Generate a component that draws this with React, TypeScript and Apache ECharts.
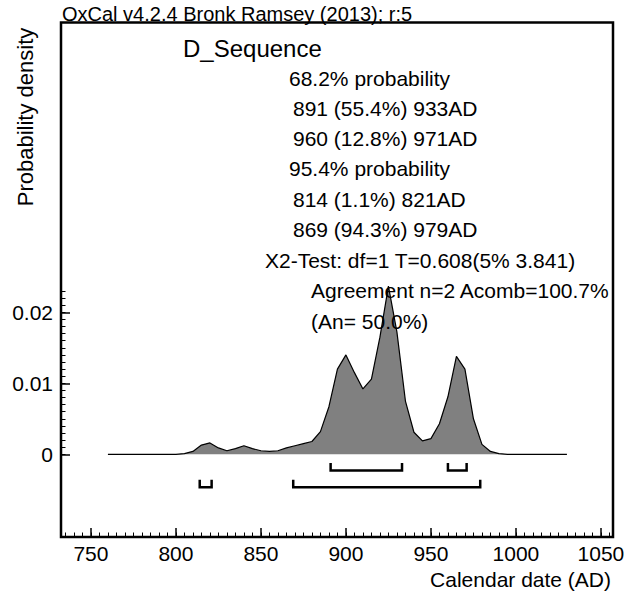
import React, { useEffect, useRef } from "react";
import * as echarts from "echarts";

// ---- data ----
const years = [760, 800, 805, 810, 815, 820, 825, 830, 835, 840, 845, 850, 855, 860, 865, 870, 875, 880, 885, 890, 895, 900, 905, 910, 915, 920, 925, 930, 935, 940, 945, 950, 955, 960, 965, 970, 975, 980, 985, 990, 995, 1030];
const density = [0, 0, 0.0001, 0.0004, 0.0013, 0.0016, 0.0009, 0.0005, 0.0008, 0.0012, 0.0008, 0.0005, 0.0004, 0.0005, 0.0009, 0.0012, 0.0015, 0.0018, 0.0032, 0.0067, 0.012, 0.014, 0.0115, 0.0092, 0.0106, 0.0165, 0.0237, 0.0172, 0.0075, 0.0031, 0.0019, 0.0022, 0.0043, 0.0081, 0.0138, 0.012, 0.005, 0.0014, 0.0004, 0.0001, 0, 0];
const ranges68 = [[891, 933], [960, 971]];
const ranges95 = [[814, 821], [869, 979]];
const xMajorTicks = [750, 800, 850, 900, 950, 1000, 1050];
const xMinorTicks = [735, 740, 745, 750, 755, 760, 765, 770, 775, 780, 785, 790, 795, 800, 805, 810, 815, 820, 825, 830, 835, 840, 845, 850, 855, 860, 865, 870, 875, 880, 885, 890, 895, 900, 905, 910, 915, 920, 925, 930, 935, 940, 945, 950, 955, 960, 965, 970, 975, 980, 985, 990, 995, 1000, 1005, 1010, 1015, 1020, 1025, 1030, 1035, 1040, 1045, 1050, 1055];
const yMajorTicks = [0, 0.01, 0.02];
const yMinorTicks = [0, 0.001, 0.002, 0.003, 0.004, 0.005, 0.006, 0.007, 0.008, 0.009, 0.01, 0.011, 0.012, 0.013, 0.014, 0.015, 0.016, 0.017, 0.018, 0.019, 0.02, 0.021, 0.022, 0.023];
const titleText = "OxCal v4.2.4 Bronk Ramsey (2013); r:5";
const seqName = "D_Sequence";
const infoLines = ["68.2% probability", "891 (55.4%) 933AD", "960 (12.8%) 971AD", "95.4% probability", "814 (1.1%) 821AD", "869 (94.3%) 979AD", "X2-Test: df=1 T=0.608(5% 3.841)", "Agreement n=2 Acomb=100.7%", "(An= 50.0%)"];
const yAxisTitle = "Probability density";
const xAxisTitle = "Calendar date (AD)";

// ---- layout ----
const XMIN = 732.4;
const XMAX = 1057.1;
const YMIN = -0.01165;
const YMAX = 0.06082;
const infoX = [289, 293, 293, 289, 293, 293, 265, 311, 311];
const infoY = [78, 108, 138, 168, 199, 229, 260, 290, 321];
const row68 = { top: -0.00123, bottom: -0.00229 };
const row95 = { top: -0.00359, bottom: -0.00464 };
const FONT = '"Liberation Sans", Arial, sans-serif';

function bracket(r: number[], row: { top: number; bottom: number }) {
  return {
    type: "line",
    xAxisIndex: 0,
    yAxisIndex: 0,
    symbol: "none",
    silent: true,
    lineStyle: { color: "#000", width: 2.5, join: "miter", cap: "butt" },
    data: [
      [r[0], row.top],
      [r[0], row.bottom],
      [r[1], row.bottom],
      [r[1], row.top],
    ],
    z: 5,
  };
}

export default function App() {
  const ref = useRef<HTMLDivElement>(null);
  useEffect(() => {
    if (!ref.current) return;
    const chart = echarts.init(ref.current, null, { renderer: "svg" });
    const axisCommon = { type: "value", splitLine: { show: false }, axisLine: { show: false, onZero: false } };
    const fmt = (v: number) => String(v);
    const graphics: any[] = [
      {
        type: "text",
        x: 62,
        y: 14,
        style: { text: titleText, font: `20px ${FONT}`, fill: "#000", align: "left", verticalAlign: "middle" },
        z: 100,
      },
      {
        type: "text",
        x: 183,
        y: 48,
        style: { text: seqName, font: `24px ${FONT}`, fill: "#000", align: "left", verticalAlign: "middle" },
        z: 100,
      },
      {
        type: "text",
        x: 25,
        y: 117,
        rotation: Math.PI / 2,
        style: { text: yAxisTitle, font: `22px ${FONT}`, fill: "#000", align: "center", verticalAlign: "middle" },
        z: 100,
      },
      {
        type: "text",
        x: 611,
        y: 579,
        style: { text: xAxisTitle, font: `21px ${FONT}`, fill: "#000", align: "right", verticalAlign: "middle" },
        z: 100,
      },
    ];
    infoLines.forEach((t, i) => {
      graphics.push({
        type: "text",
        x: infoX[i],
        y: infoY[i],
        style: { text: t, font: `21px ${FONT}`, fill: "#000", align: "left", verticalAlign: "middle" },
        z: 100,
      });
    });

    chart.setOption({
      animation: false,
      backgroundColor: "#fff",
      grid: {
        left: 61,
        right: 24,
        top: 22.5,
        bottom: 58,
        show: true,
        borderColor: "#000",
        borderWidth: 2.5,
        containLabel: false,
        outerBoundsMode: "none",
      },
      xAxis: [
        {
          ...axisCommon,
          min: XMIN,
          max: XMAX,
          position: "bottom",
          axisTick: { show: true, inside: true, length: 9, customValues: xMajorTicks, lineStyle: { color: "#000", width: 1.5 } },
          axisLabel: { show: true, customValues: xMajorTicks, formatter: fmt, margin: 6, fontSize: 21, color: "#000", fontFamily: FONT },
        },
        {
          ...axisCommon,
          min: XMIN,
          max: XMAX,
          position: "bottom",
          offset: 0,
          axisTick: { show: true, inside: true, length: 4.5, customValues: xMinorTicks, lineStyle: { color: "#000", width: 1 } },
          axisLabel: { show: false },
        },
      ],
      yAxis: [
        {
          ...axisCommon,
          min: YMIN,
          max: YMAX,
          position: "left",
          axisTick: { show: true, inside: true, length: 9, customValues: yMajorTicks, lineStyle: { color: "#000", width: 1.5 } },
          axisLabel: { show: true, customValues: yMajorTicks, formatter: fmt, margin: 8, fontSize: 21, color: "#000", fontFamily: FONT },
        },
        {
          ...axisCommon,
          min: YMIN,
          max: YMAX,
          position: "left",
          offset: 0,
          axisTick: { show: true, inside: true, length: 4.5, customValues: yMinorTicks, lineStyle: { color: "#000", width: 1 } },
          axisLabel: { show: false },
        },
      ],
      series: [
        {
          type: "line",
          xAxisIndex: 0,
          yAxisIndex: 0,
          symbol: "none",
          silent: true,
          data: years.map((y, i) => [y, density[i]]),
          lineStyle: { color: "#000", width: 1.2 },
          areaStyle: { color: "#808080", opacity: 1, origin: "auto" },
          z: 3,
        },
        ...ranges68.map((r) => bracket(r, row68)),
        ...ranges95.map((r) => bracket(r, row95)),
      ],
      graphic: graphics,
    });
    return () => chart.dispose();
  }, []);
  return <div ref={ref} style={{ position: "fixed", left: 0, top: 0, width: 637, height: 595 }} />;
}
